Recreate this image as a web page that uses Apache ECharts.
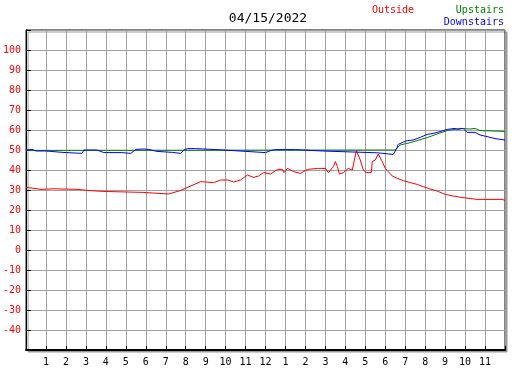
<!DOCTYPE html>
<html>
<head>
<meta charset="utf-8">
<script src="https://cdn.jsdelivr.net/npm/echarts@6/dist/echarts.min.js"></script>
<style>
	html, body { margin: 0; padding: 0; background: #fff; }
	#main { width: 527px; height: 370px; }
</style>
</head>
<body>
<div id="main"></div>
<script>
// hours since midnight
var outsideTimes = [0, 0.4, 0.75, 1.35, 2.6, 3.05, 3.85, 5.85, 6.35, 7.15, 7.75, 8.75, 9.4, 9.75, 10.1, 10.4, 10.75, 11.1, 11.4, 11.65, 11.9, 12.25, 12.6, 12.85, 12.92, 13.1, 13.4, 13.75, 14.1, 14.6, 15.0, 15.15, 15.4, 15.5, 15.6, 15.7, 15.9, 16.15, 16.35, 16.55, 16.75, 16.9, 17.05, 17.3, 17.35, 17.5, 17.65, 17.85, 18.0, 18.15, 18.35, 18.6, 18.9, 19.25, 19.6, 19.9, 20.25, 20.6, 21.0, 21.4, 21.9, 22.6, 23.25, 23.85, 24];
var outsideTemps = [31.3, 30.8, 30.3, 30.6, 30.3, 29.8, 29.3, 28.8, 28.5, 28.0, 29.8, 34.2, 33.7, 35, 35, 34, 35, 37.5, 36.3, 37, 38.7, 38, 40.3, 40.3, 38.7, 40.8, 39.2, 38.3, 40.3, 40.8, 40.8, 38.7, 41.7, 44.2, 41.7, 38, 38.7, 40.8, 40, 49.7, 45, 40, 38.7, 38.7, 44.2, 45, 48, 44.2, 40.8, 39.2, 37, 35.8, 34.7, 33.7, 32.8, 31.7, 30.5, 29.5, 27.8, 27, 26.2, 25.3, 25.3, 25.3, 24.8];

var upstairsTimes = [0, 18.5, 18.55, 18.75, 19.25, 19.6, 20.1, 20.6, 21.1, 21.5, 21.75, 22.25, 22.5, 22.75, 24];
var upstairsTemps = [49.8, 50, 50.3, 52.5, 53.7, 54.7, 56.2, 58, 59.7, 60.3, 60.8, 60.5, 60.8, 59.7, 59.3];

var downstairsTimes = [0, 0.3, 0.5, 1.0, 1.05, 1.85, 1.9, 2.8, 2.9, 3.55, 3.6, 3.9, 4.8, 4.9, 5.25, 5.5, 5.85, 6.15, 6.25, 6.55, 6.65, 7.35, 7.45, 7.75, 7.9, 8.1, 8.5, 8.6, 9.9, 10.0, 12.0, 12.25, 12.5, 13.5, 13.6, 14.85, 14.95, 17.6, 17.7, 18.4, 18.55, 18.65, 18.85, 19.1, 19.4, 19.75, 20.1, 20.4, 20.75, 21.1, 21.5, 21.65, 21.75, 21.9, 22.1, 22.5, 22.75, 23.1, 23.5, 24];
var downstairsTemps = [50, 50.3, 49.5, 49.5, 48.8, 48.8, 48.3, 48.3, 50, 50, 49.2, 48.7, 48.7, 48.3, 48.3, 50.3, 50.5, 50.3, 49.3, 49.3, 48.8, 48.8, 48.3, 48.3, 50, 50.7, 50.7, 50, 50, 49, 48.7, 49.7, 50.2, 50.2, 49.5, 49.5, 48.6, 48.6, 47.8, 47.8, 50.3, 52.8, 53.7, 54.7, 55, 56.3, 57.8, 58.3, 59.2, 60.3, 60.8, 60.3, 59.3, 60.8, 58.8, 58.8, 57.5, 56.7, 55.7, 55];

var chartTitle = '04/15/2022';

var pairs = function(xs, ys) {
	return xs.map(function(x, i) { return [x, ys[i]]; });
};

var mono = 'DejaVu Sans Mono';

var myChart = echarts.init(document.getElementById('main'));

var option = {
	animation: false,
	backgroundColor: '#fff',
	title: [{
		text: chartTitle,
		left: 263,
		top: 7,
		textAlign: 'center',
		textStyle: { fontFamily: mono, fontSize: 13, fontWeight: 'normal', color: '#000' }
	}, {
		text: 'Outside',
		left: 367,
		top: 0,
		textStyle: { fontFamily: mono, fontSize: 10, fontWeight: 'normal', color: '#ff0000' }
	}, {
		text: 'Upstairs',
		right: 18,
		top: 0,
		textStyle: { fontFamily: mono, fontSize: 10, fontWeight: 'normal', color: '#008000' }
	}, {
		text: 'Downstairs',
		right: 18,
		top: 12,
		textStyle: { fontFamily: mono, fontSize: 10, fontWeight: 'normal', color: '#0000ff' }
	}],
	grid: {
		left: 25,
		top: 30,
		width: 480,
		height: 320,
		show: true,
		backgroundColor: '#fff',
		borderColor: '#000',
		borderWidth: 1,
		shadowColor: '#999',
		shadowBlur: 0,
		shadowOffsetX: 2,
		shadowOffsetY: 2
	},
	xAxis: {
		type: 'value',
		min: 0,
		max: 24,
		interval: 1,
		axisLine: { onZero: false, lineStyle: { color: '#000', width: 2 } },
		axisTick: { inside: true, length: 4, lineStyle: { color: '#000' } },
		axisLabel: {
			margin: 7,
			fontFamily: mono,
			fontSize: 10,
			color: '#000',
			formatter: function(v) {
				if (v <= 0 || v >= 24) return '';
				return String((v - 1) % 12 + 1);
			}
		},
		splitLine: { show: true, lineStyle: { color: '#a0a0a0', width: 1 } }
	},
	yAxis: {
		type: 'value',
		min: -50,
		max: 110,
		interval: 10,
		axisLine: { show: true, onZero: false, lineStyle: { color: '#000' } },
		axisTick: { inside: true, length: 5, lineStyle: { color: '#000' } },
		axisLabel: {
			margin: 5,
			fontFamily: mono,
			fontSize: 10,
			color: '#ff0000',
			formatter: function(v) {
				if (v <= -50 || v >= 110) return '';
				return String(v);
			}
		},
		splitLine: { show: true, lineStyle: { color: '#a0a0a0', width: 1 } }
	},
	series: [{
		name: 'Outside',
		type: 'line',
		data: pairs(outsideTimes, outsideTemps),
		showSymbol: false,
		lineStyle: { color: '#ff0000', width: 1 }
	}, {
		name: 'Upstairs',
		type: 'line',
		data: pairs(upstairsTimes, upstairsTemps),
		showSymbol: false,
		lineStyle: { color: '#008000', width: 1 }
	}, {
		name: 'Downstairs',
		type: 'line',
		data: pairs(downstairsTimes, downstairsTemps),
		showSymbol: false,
		lineStyle: { color: '#0000ff', width: 1 }
	}]
};

myChart.setOption(option);
</script>
</body>
</html>
